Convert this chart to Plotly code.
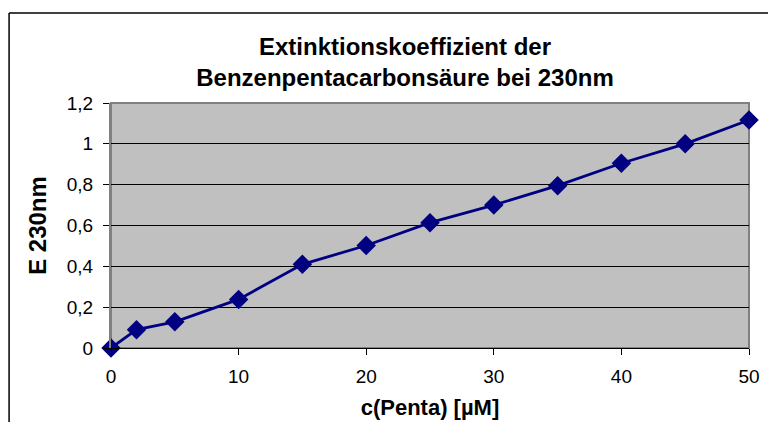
import plotly.graph_objects as go

conc = [0, 2, 5, 10, 15, 20, 25, 30, 35, 40, 45, 50]
extinction = [0.0, 0.09, 0.128, 0.238, 0.41, 0.502, 0.614, 0.70, 0.795, 0.905, 1.0, 1.117]

y_tickvals = [0, 0.2, 0.4, 0.6, 0.8, 1.0, 1.2]
y_ticktext = ["0", "0,2", "0,4", "0,6", "0,8", "1", "1,2"]
x_tickvals = [0, 10, 20, 30, 40, 50]
x_ticktext = ["0", "10", "20", "30", "40", "50"]

title_text = "Extinktionskoeffizient der<br>Benzenpentacarbonsäure bei 230nm"
x_title = "c(Penta) [µM]"
y_title = "E 230nm"

FONT = "Liberation Sans, Arial, sans-serif"

fig = go.Figure()
fig.add_trace(go.Scatter(
    x=conc, y=extinction, mode="lines+markers",
    line=dict(color="#000080", width=2.8),
    marker=dict(symbol="diamond", size=15, color="#000080"),
    cliponaxis=False, showlegend=False,
))

L, R, T, B = 111, 18.5, 103, 74
W, H = 768, 422
pw, ph = W - L - R, H - T - B
fx = (9 - L) / pw
fy = 1 + (T - 13) / ph

fig.update_layout(
    width=W, height=H,
    margin=dict(l=L, r=R, t=T, b=B, autoexpand=False),
    paper_bgcolor="white", plot_bgcolor="#C0C0C0",
    font=dict(family=FONT, color="black", size=19),
    title=dict(text=title_text, x=405 / W, xanchor="center",
               y=1 - 55 / H, yanchor="middle",
               font=dict(size=24, family=FONT, color="black", weight="bold")),
    xaxis=dict(range=[0, 50], tickvals=x_tickvals, ticktext=x_ticktext,
               showgrid=False, zeroline=False, showline=True, linecolor="black",
               linewidth=1, ticks="outside", ticklen=6, tickcolor="black",
               tickfont=dict(size=19), ticklabelstandoff=5, automargin=False,
               title=dict(text=x_title, standoff=13,
                          font=dict(size=22, weight="bold"))),
    yaxis=dict(range=[0, 1.2], tickvals=y_tickvals, ticktext=y_ticktext,
               showgrid=True, gridcolor="black", gridwidth=1, zeroline=False,
               showline=True, linecolor="#808080", linewidth=2,
               ticks="outside", ticklen=6, tickcolor="black",
               tickfont=dict(size=19), ticklabelstandoff=6, automargin=False,
               title=dict(text=y_title, standoff=13,
                          font=dict(size=24, weight="bold"))),
    shapes=[
        dict(type="rect", xref="paper", yref="paper", x0=0, x1=1, y0=0, y1=1,
             line=dict(color="#808080", width=2), layer="below"),
        dict(type="line", xref="paper", yref="paper", x0=fx, x1=fx, y0=-1, y1=fy,
             line=dict(color="black", width=1.5)),
        dict(type="line", xref="paper", yref="paper", x0=fx, x1=2, y0=fy, y1=fy,
             line=dict(color="black", width=1.5)),
    ],
)

fig.write_html("out.html")
